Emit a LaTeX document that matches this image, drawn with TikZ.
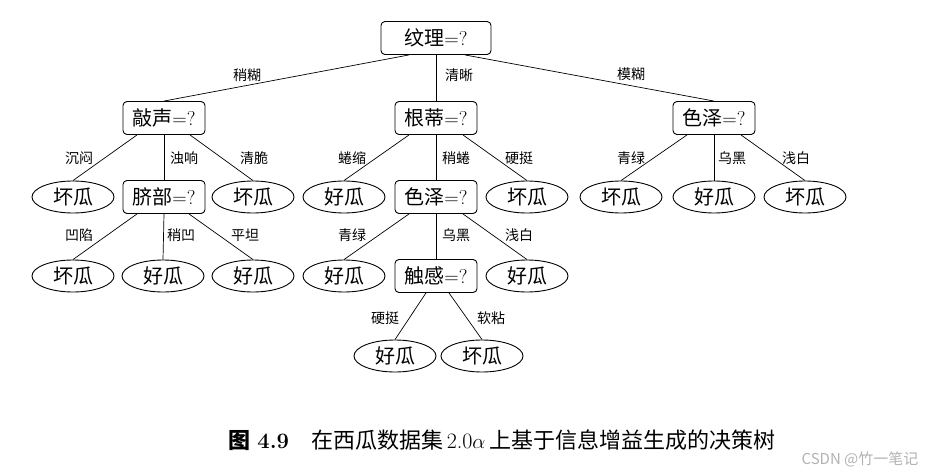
\documentclass[tikz,border=0pt]{standalone}
\usepackage{fontspec}
\newfontfamily\cjk{Noto Sans CJK SC}
\usetikzlibrary{shapes.geometric}

\tikzset{
  test/.style={draw=black, line width=0.9pt, rounded corners=4pt, minimum width=82pt, minimum height=33pt, font=\fontsize{20}{23}\selectfont},
  leaf/.style={draw=black, ellipse, line width=0.9pt, minimum width=82pt, minimum height=32pt, font=\cjk\fontsize{20}{23}\selectfont},
  lbl/.style={font=\cjk\fontsize{14}{16}\selectfont},
  branch/.style={black, line width=0.7pt}
}

\begin{document}
\begin{tikzpicture}[x=1pt,y=1pt]
	\tikzstyle{every node}+=[inner sep=0pt]
	\useasboundingbox (0,0) rectangle (932,-476);
	% tests
	\node [test, minimum width=110pt] (wl) at (436,-38) {{\cjk 纹理}=?};
	\node [test] (qs) at (164,-118) {{\cjk 敲声}=?};
	\node [test] (gd) at (436,-118) {{\cjk 根蒂}=?};
	\node [test] (sz) at (714,-118) {{\cjk 色泽}=?};
	\node [test] (qb) at (164,-197) {{\cjk 脐部}=?};
	\node [test] (szb) at (436,-197) {{\cjk 色泽}=?};
	\node [test] (cg) at (436,-276) {{\cjk 触感}=?};
	% leaves
	\node [leaf] (l1) at (73,-197) {坏瓜};
	\node [leaf] (l2) at (253,-197) {坏瓜};
	\node [leaf] (l3) at (344,-197) {好瓜};
	\node [leaf] (l4) at (527,-197) {坏瓜};
	\node [leaf] (l5) at (621,-197) {坏瓜};
	\node [leaf] (l6) at (714,-197) {好瓜};
	\node [leaf] (l7) at (805,-197) {坏瓜};
	\node [leaf] (l8) at (73,-276) {坏瓜};
	\node [leaf] (l9) at (163,-276) {好瓜};
	\node [leaf] (l10) at (253,-276) {好瓜};
	\node [leaf] (l11) at (344,-276) {好瓜};
	\node [leaf] (l12) at (527,-276) {好瓜};
	\node [leaf] (l13) at (395,-356) {好瓜};
	\node [leaf] (l14) at (482,-356) {坏瓜};
	% branches
	\draw [branch] ([xshift=-27pt]wl.south) -- (qs.north);
	\draw [branch] (wl.south) -- (gd.north);
	\draw [branch] ([xshift=29pt]wl.south) -- (sz.north);
	\draw [branch] ([xshift=-27pt]qs.south) -- (l1.north);
	\draw [branch] (qs.south) -- (qb.north);
	\draw [branch] ([xshift=26pt]qs.south) -- (l2.north);
	\draw [branch] ([xshift=-27pt]gd.south) -- (l3.north);
	\draw [branch] (gd.south) -- (szb.north);
	\draw [branch] ([xshift=27pt]gd.south) -- (l4.north);
	\draw [branch] ([xshift=-27pt]sz.south) -- (l5.north);
	\draw [branch] (sz.south) -- (l6.north);
	\draw [branch] ([xshift=27pt]sz.south) -- (l7.north);
	\draw [branch] ([xshift=-27pt]qb.south) -- (l8.north);
	\draw [branch] (qb.south) -- (l9.north);
	\draw [branch] ([xshift=25pt]qb.south) -- (l10.north);
	\draw [branch] ([xshift=-27pt]szb.south) -- (l11.north);
	\draw [branch] (szb.south) -- (cg.north);
	\draw [branch] ([xshift=27pt]szb.south) -- (l12.north);
	\draw [branch] ([xshift=-10pt]cg.south) -- (l13.north);
	\draw [branch] ([xshift=13pt]cg.south) -- (l14.north);
	% branch labels
	\node [lbl] (t1) at (247,-75) {稍糊};
	\node [lbl] (t2) at (459,-75) {清晰};
	\node [lbl] (t3) at (631,-74) {模糊};
	\node [lbl] (t4) at (79,-158) {沉闷};
	\node [lbl] (t5) at (184,-158) {浊响};
	\node [lbl] (t6) at (254,-158) {清脆};
	\node [lbl] (t7) at (352,-158) {蜷缩};
	\node [lbl] (t8) at (456,-158) {稍蜷};
	\node [lbl] (t9) at (519,-158) {硬挺};
	\node [lbl] (t10) at (631,-158) {青绿};
	\node [lbl] (t11) at (732,-158) {乌黑};
	\node [lbl] (t12) at (796,-158) {浅白};
	\node [lbl] (t13) at (79,-235) {凹陷};
	\node [lbl] (t14) at (181,-235) {稍凹};
	\node [lbl] (t15) at (245,-235) {平坦};
	\node [lbl] (t16) at (352,-235) {青绿};
	\node [lbl] (t17) at (456,-235) {乌黑};
	\node [lbl] (t18) at (519,-235) {浅白};
	\node [lbl] (t19) at (385,-318) {硬挺};
	\node [lbl] (t20) at (491,-318) {软粘};
	% caption
	\node [font=\fontsize{22}{25}\selectfont] (cap) at (502,-440) {{\cjk\bfseries 图}~\textbf{4.9}\quad{\cjk 在西瓜数据集}\,2.0$\alpha$\,{\cjk 上基于信息增益生成的决策树}};
	\node [font=\cjk\fontsize{15}{17}\selectfont, text=black!30] (wm) at (860,-459) {CSDN @竹一笔记};
\end{tikzpicture}
\end{document}
